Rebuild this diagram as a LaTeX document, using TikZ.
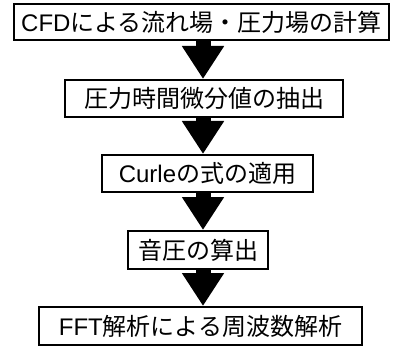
\documentclass[tikz,border=0pt]{standalone}
\usepackage{fontspec}
\setmainfont{Liberation Sans}
\newfontfamily\cjk{Noto Sans CJK JP}
\usetikzlibrary{arrows.meta}
\begin{document}
\begin{tikzpicture}[x=1pt,y=-1pt,
  stepbox/.style={draw=black, line width=2pt, rectangle, inner sep=0pt, font=\fontsize{24}{27}\selectfont},
  bigarrow/.style={line width=15pt, -{Triangle[width=40pt,length=33pt]}}]
\useasboundingbox (0,0) rectangle (398,347);
\node[stepbox, minimum width=375pt, minimum height=36.5pt] (b1) at (201.5,22) {CFD{\cjk による流れ場・圧力場の計算}};
\node[stepbox, minimum width=278pt, minimum height=37pt] (b2) at (204,98.5) {\cjk 圧力時間微分値の抽出};
\node[stepbox, minimum width=211pt, minimum height=37pt] (b3) at (207.5,173.5) {Curle{\cjk の式の適用}};
\node[stepbox, minimum width=140pt, minimum height=38pt] (b4) at (198,250) {\cjk 音圧の算出};
\node[stepbox, minimum width=323pt, minimum height=38pt] (b5) at (200.5,326) {FFT{\cjk 解析による周波数解析}};
\coordinate (ax) at (203,0);
\draw[bigarrow] (b1.south -| ax) -- (b2.north -| ax);
\draw[bigarrow] (b2.south -| ax) -- (b3.north -| ax);
\draw[bigarrow] (b3.south -| ax) -- (b4.north -| ax);
\draw[bigarrow] (b4.south -| ax) -- (b5.north -| ax);
\end{tikzpicture}
\end{document}
